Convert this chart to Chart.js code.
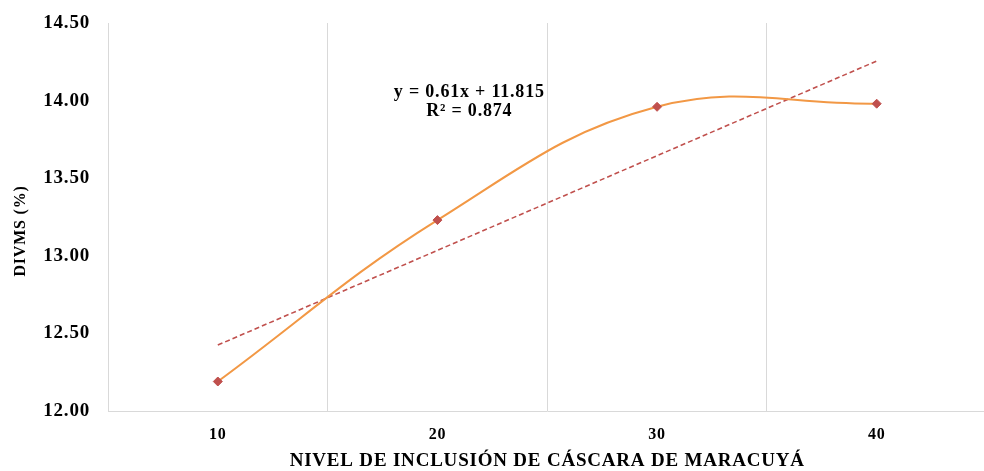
<!DOCTYPE html>
<html>
<head>
<meta charset="utf-8">
<script src="https://cdn.jsdelivr.net/npm/chart.js@4"></script>
<style>
  html, body { margin: 0; padding: 0; background: #fff; overflow: hidden; }
  #wrap { width: 992px; height: 471px; position: relative; }
</style>
</head>
<body>
<div id="wrap"><canvas id="c"></canvas></div>
<script>
// Inclusion levels of passion-fruit peel and measured DIVMS (%)
const levels = ['10', '20', '30', '40'];
const divms = [12.19, 13.23, 13.96, 13.98];

// Linear trend fitted on the level index (1..4)
const trendSlope = 0.61;
const trendIntercept = 11.815;
const trendR2 = 0.874;
const trendValues = levels.map((_, i) => trendSlope * (i + 1) + trendIntercept);

const yMin = 12.0;
const yMax = 14.5;
const yStep = 0.5;
const yTitle = 'DIVMS (%)';

const FONT = "'Liberation Serif', 'Times New Roman', serif";

// Slightly wider text spacing for every label on the canvas
const textSpacing = {
  id: 'textSpacing',
  beforeDraw(chart) {
    if ('letterSpacing' in chart.ctx) chart.ctx.letterSpacing = '0.8px';
  }
};

// Vertical axis title, set a little below the middle of the plot
const yAxisTitle = {
  id: 'yAxisTitle',
  afterDraw(chart) {
    const { ctx, chartArea } = chart;
    const cy = (chartArea.top + chartArea.bottom) / 2 + 14;
    ctx.save();
    ctx.translate(21, cy);
    ctx.rotate(-Math.PI / 2);
    ctx.fillStyle = '#000';
    ctx.font = 'bold 16px ' + FONT;
    ctx.textAlign = 'center';
    ctx.textBaseline = 'middle';
    ctx.fillText(yTitle, 0, 0);
    ctx.restore();
  }
};

// Writes the trend equation and R² above the curve
const trendLabel = {
  id: 'trendLabel',
  afterDatasetsDraw(chart) {
    const { ctx, scales } = chart;
    const x = scales.x.getPixelForValue(1.145);
    const y1 = scales.y.getPixelForValue(14.05);
    ctx.save();
    ctx.fillStyle = '#000';
    ctx.font = 'bold 18px ' + FONT;
    ctx.textAlign = 'center';
    ctx.textBaseline = 'middle';
    const eq = 'y = ' + trendSlope.toFixed(2) + 'x + ' + trendIntercept.toFixed(3);
    ctx.fillText(eq, x, y1);
    ctx.fillText('R\u00B2 = ' + trendR2.toFixed(3), x, y1 + 19);
    ctx.restore();
  }
};

new Chart(document.getElementById('c'), {
  type: 'line',
  data: {
    labels: levels,
    datasets: [
      {
        label: 'DIVMS',
        data: divms,
        borderColor: '#f29845',
        borderWidth: 2,
        tension: 0.4,
        pointStyle: 'rectRot',
        pointRadius: 4.5,
        pointHoverRadius: 4.5,
        pointBackgroundColor: '#c0504d',
        pointBorderColor: '#c0504d',
        pointBorderWidth: 1,
        order: 1
      },
      {
        label: 'Lineal',
        data: trendValues,
        borderColor: '#c0504d',
        borderWidth: 1.6,
        borderDash: [5, 3],
        tension: 0,
        pointRadius: 0,
        order: 2
      }
    ]
  },
  options: {
    responsive: true,
    maintainAspectRatio: false,
    animation: false,
    layout: { padding: { top: 0, left: 0, right: 0, bottom: 0 } },
    plugins: {
      legend: { display: false },
      tooltip: { enabled: false }
    },
    scales: {
      x: {
        type: 'category',
        offset: true,
        grid: {
          display: true,
          offset: true,
          color: '#d9d9d9',
          lineWidth: 1,
          drawTicks: false
        },
        border: { display: true, color: '#d9d9d9', width: 1 },
        ticks: {
          color: '#000',
          padding: 14,
          font: { family: FONT, size: 16, weight: 'bold' }
        },
        title: {
          display: true,
          text: 'NIVEL DE INCLUSIÓN DE CÁSCARA DE MARACUYÁ',
          color: '#000',
          padding: { top: 0, bottom: 0 },
          font: { family: FONT, size: 19, weight: 'bold', lineHeight: 1 }
        },
        afterFit(scale) { scale.height = 60; }
      },
      y: {
        min: yMin,
        max: yMax,
        grid: { display: false, drawTicks: false },
        border: { display: true, color: '#d9d9d9', width: 1 },
        ticks: {
          stepSize: yStep,
          color: '#000',
          padding: 18,
          font: { family: FONT, size: 19, weight: 'bold', lineHeight: 1 },
          callback: (v) => Number(v).toFixed(2)
        },
        title: { display: false },
        afterFit(scale) {
          scale.width = 108;
          scale.paddingTop = 23;
        }
      }
    }
  },
  plugins: [textSpacing, yAxisTitle, trendLabel]
});
</script>
</body>
</html>
